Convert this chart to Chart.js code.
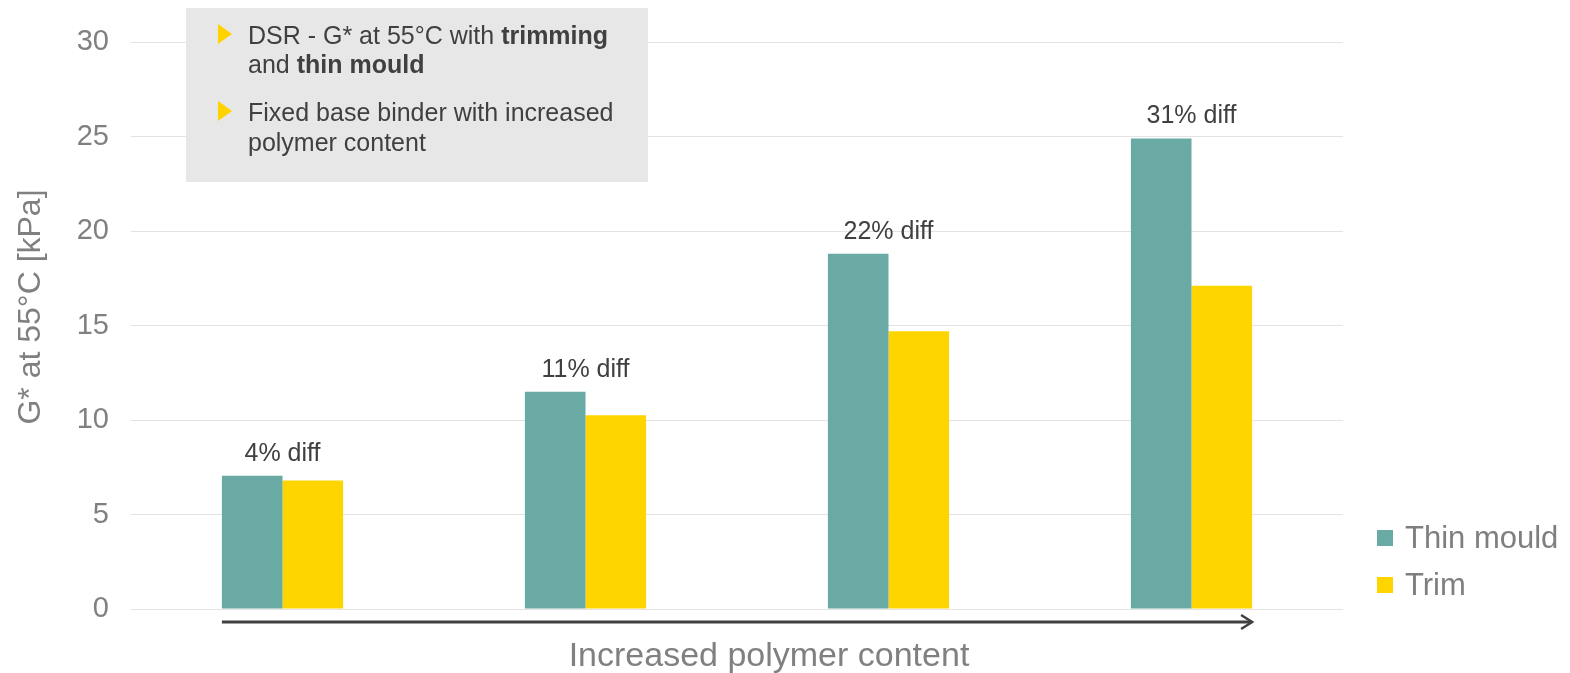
<!DOCTYPE html>
<html>
<head>
<meta charset="utf-8">
<script src="https://cdn.jsdelivr.net/npm/chart.js@4.4.1/dist/chart.umd.min.js"></script>
<style>
  html, body { margin: 0; padding: 0; background: #fff; }
  #wrap { width: 1570px; height: 673px; }
</style>
</head>
<body>
<div id="wrap"><canvas id="grafico"></canvas></div>
<script>
// Datos del gráfico
const categorias = ['1', '2', '3', '4'];
const thinMould = [7.05, 11.5, 18.8, 24.9];
const trim = [6.8, 10.25, 14.7, 17.1];
const etiquetasDiff = ['4% diff', '11% diff', '22% diff', '31% diff'];
const ticksY = [0, 5, 10, 15, 20, 25, 30];
const tituloY = 'G* at 55°C [kPa]';
const tituloX = 'Increased polymer content';
// Notas del recuadro gris: cada línea es una lista de [texto, negrita]
const notas = [
    [[['DSR - G* at 55°C with ', false], ['trimming', true]],
     [['and ', false], ['thin mould', true]]],
    [[['Fixed base binder with increased', false]],
     [['polymer content', false]]]
];

const FUENTE = '"Liberation Sans", Arial, sans-serif';

// Dibuja etiquetas, flecha, títulos, leyenda y recuadro de notas
const decoracion = {
    id: 'decoracion',
    afterDraw(chart) {
        const ctx = chart.ctx;
        const m0 = chart.getDatasetMeta(0).data;
        const m1 = chart.getDatasetMeta(1).data;
        ctx.save();

        // Etiquetas de diferencia encima de cada grupo
        ctx.font = '25px ' + FUENTE;
        ctx.fillStyle = '#404040';
        ctx.textAlign = 'center';
        ctx.textBaseline = 'alphabetic';
        etiquetasDiff.forEach((t, i) => {
            const x = (m0[i].x + m1[i].x) / 2;
            const top = Math.min(m0[i].y, m1[i].y);
            ctx.fillText(t, x, top - 15);
        });

        // Flecha horizontal bajo las barras
        const x0 = m0[0].x - m0[0].width / 2;
        const x1 = m1[m1.length - 1].x + m1[m1.length - 1].width / 2;
        const yf = chart.chartArea.bottom + 13;
        ctx.strokeStyle = '#404040';
        ctx.lineWidth = 3;
        ctx.beginPath();
        ctx.moveTo(x0, yf);
        ctx.lineTo(x1, yf);
        ctx.stroke();
        ctx.lineWidth = 2.5;
        ctx.beginPath();
        ctx.moveTo(x1 - 11, yf - 7);
        ctx.lineTo(x1, yf);
        ctx.lineTo(x1 - 11, yf + 7);
        ctx.stroke();

        // Título del eje X
        ctx.font = '34px ' + FUENTE;
        ctx.fillStyle = '#808080';
        ctx.fillText(tituloX, 769, 666);

        // Título del eje Y (girado)
        ctx.save();
        ctx.translate(31, 307);
        ctx.rotate(-Math.PI / 2);
        ctx.textBaseline = 'middle';
        ctx.font = '32px ' + FUENTE;
        ctx.fillText(tituloY, 0, 0);
        ctx.restore();

        // Leyenda
        ctx.textAlign = 'left';
        ctx.textBaseline = 'middle';
        ctx.font = '31px ' + FUENTE;
        chart.data.datasets.forEach((ds, i) => {
            const y = 538 + i * 47;
            ctx.fillStyle = ds.backgroundColor;
            ctx.fillRect(1377, y - 8, 16, 16);
            ctx.fillStyle = '#7f7f7f';
            ctx.fillText(ds.label, 1405, y + 1);
        });

        // Recuadro de notas
        ctx.fillStyle = '#e7e7e7';
        ctx.fillRect(186, 8, 462, 174);
        ctx.textBaseline = 'alphabetic';
        const lineas = [44, 73, 121, 151];
        let n = 0;
        notas.forEach(punto => {
            const yb = lineas[n];
            ctx.fillStyle = '#ffd200';
            ctx.beginPath();
            ctx.moveTo(218, yb - 20);
            ctx.lineTo(232, yb - 10);
            ctx.lineTo(218, yb);
            ctx.closePath();
            ctx.fill();
            punto.forEach(linea => {
                let x = 248;
                linea.forEach(([txt, negrita]) => {
                    ctx.font = (negrita ? 'bold ' : '') + '25px ' + FUENTE;
                    ctx.fillStyle = '#404040';
                    ctx.fillText(txt, x, lineas[n]);
                    x += ctx.measureText(txt).width;
                });
                n++;
            });
        });
        ctx.restore();
    }
};

new Chart(document.getElementById('grafico'), {
    type: 'bar',
    data: {
        labels: categorias,
        datasets: [{
            label: 'Thin mould',
            data: thinMould,
            backgroundColor: '#6aaaa4',
            borderWidth: 0
        }, {
            label: 'Trim',
            data: trim,
            backgroundColor: '#ffd500',
            borderWidth: 0
        }]
    },
    options: {
        responsive: true,
        maintainAspectRatio: false,
        animation: false,
        layout: {
            padding: { left: 0, top: 42, right: 227, bottom: 64 }
        },
        datasets: {
            bar: { categoryPercentage: 0.4, barPercentage: 1.0 }
        },
        plugins: {
            legend: { display: false },
            tooltip: { enabled: false }
        },
        scales: {
            x: {
                display: false
            },
            y: {
                min: 0,
                max: 30,
                afterBuildTicks: s => { s.ticks = ticksY.map(v => ({ value: v })); },
                afterFit: s => { s.width = 131; },
                border: { display: false },
                grid: { color: '#e3e3e3', lineWidth: 1, drawTicks: false },
                ticks: {
                    padding: 22,
                    color: '#808080',
                    font: { family: FUENTE, size: 29 }
                }
            }
        }
    },
    plugins: [decoracion]
});
</script>
</body>
</html>
